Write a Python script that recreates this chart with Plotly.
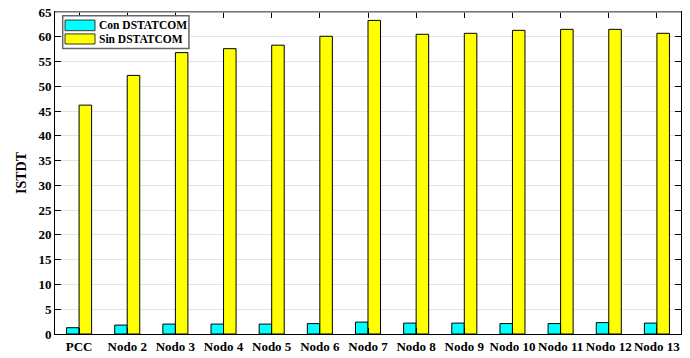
import plotly.graph_objects as go

# Node labels and ISTDT values per node
nodos = ["PCC", "Nodo 2", "Nodo 3", "Nodo 4", "Nodo 5", "Nodo 6", "Nodo 7",
         "Nodo 8", "Nodo 9", "Nodo 10", "Nodo 11", "Nodo 12", "Nodo 13"]
con_dstatcom = [1.27, 1.8, 2.0, 2.0, 2.0, 2.1, 2.4, 2.2, 2.2, 2.1, 2.1, 2.3, 2.2]
sin_dstatcom = [46.2, 52.2, 56.8, 57.6, 58.3, 60.1, 63.3, 60.5, 60.7, 61.3, 61.5, 61.5, 60.7]
y_ticks = list(range(0, 66, 5))
series_names = ["Con DSTATCOM", "Sin DSTATCOM"]
series_colors = ["#00ffff", "#ffff00"]

FONT = "Liberation Serif, Times New Roman, serif"

fig = go.Figure()
for name, vals, col in zip(series_names, [con_dstatcom, sin_dstatcom], series_colors):
    fig.add_trace(go.Bar(
        x=nodos, y=vals, name=name, showlegend=False,
        marker=dict(color=col, line=dict(color="black", width=1)),
    ))

fig.update_layout(
    width=690, height=358,
    margin=dict(l=55, r=9, t=12, b=24, autoexpand=False),
    barmode="group", bargap=0.48, bargroupgap=0,
    plot_bgcolor="white", paper_bgcolor="white",
    font=dict(family=FONT, size=13, color="black"),
    xaxis=dict(
        type="category", range=[-0.5, 12.5],
        tickvals=nodos, ticktext=[f"<b>{n}</b>" for n in nodos],
        tickangle=0, automargin=False,
        showline=True, linecolor="black", linewidth=1, mirror="ticks",
        ticks="inside", ticklen=6, tickcolor="black",
        showgrid=False, tickfont=dict(family=FONT, size=13),
    ),
    yaxis=dict(
        range=[0, 65], tickvals=y_ticks, ticktext=[f"<b>{v}</b>" for v in y_ticks],
        automargin=False,
        showline=True, linecolor="black", linewidth=1, mirror="ticks",
        ticks="inside", ticklen=6, tickcolor="black",
        showgrid=True, gridcolor="#e3e3e3", gridwidth=1,
        zeroline=False, tickfont=dict(family=FONT, size=13),
        title=dict(text="<b>ISTDT</b>", font=dict(family=FONT, size=14), standoff=8),
    ),
)

# Top border drawn in grey over the mirrored axis line
fig.add_shape(type="line", xref="paper", yref="paper", x0=0, x1=1, y0=1, y1=1,
              line=dict(color="#9a9a9a", width=1.5), layer="above")

# Legend box with wide colour swatches
fig.add_shape(type="rect", xref="paper", yref="paper",
              x0=0.0123, x1=0.214, y0=0.887, y1=0.9885,
              line=dict(color="#666666", width=1.5), fillcolor="white", layer="above")
swatch_y = [(0.975, 0.942), (0.932, 0.9006)]
for name, col, (ya, yb) in zip(series_names, series_colors, swatch_y):
    fig.add_shape(type="rect", xref="paper", yref="paper",
                  x0=0.016, x1=0.0639, y0=yb, y1=ya,
                  line=dict(color="#333333", width=1), fillcolor=col, layer="above")
    fig.add_annotation(xref="paper", yref="paper", x=0.0671, y=(ya + yb) / 2,
                       xanchor="left", yanchor="middle", showarrow=False,
                       text=f"<b>{name}</b>", font=dict(family=FONT, size=11.5))

fig.write_html("out.html")
